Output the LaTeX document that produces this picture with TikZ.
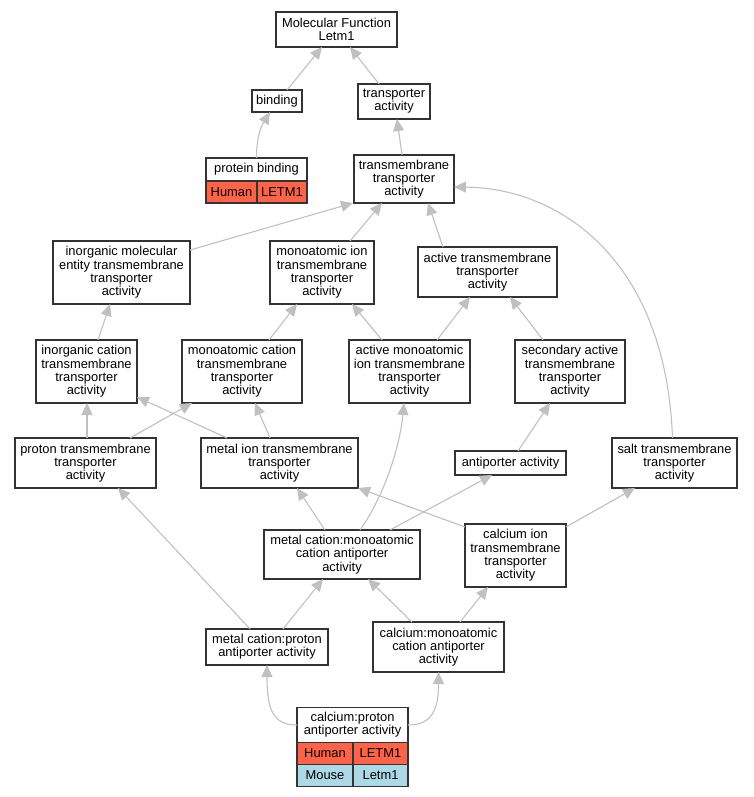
\documentclass[tikz,border=0pt]{standalone}
\usepackage{fontspec}
\setmainfont{Liberation Sans}
\usetikzlibrary{arrows.meta}
\newcommand\lab{\fontsize{12.9}{13.3}\selectfont}
\definecolor{edgegray}{HTML}{C0C0C0}
\definecolor{human}{HTML}{FF6347}
\definecolor{mouse}{HTML}{ADD8E6}
\definecolor{border}{HTML}{333333}
\tikzset{
  box/.style={draw=border, line width=1.2pt, fill=white, inner sep=0pt, outer sep=0pt, align=center, font=\lab},
  hcell/.style={box, fill=human},
  mcell/.style={box, fill=mouse},
  edge/.style={draw=edgegray, line width=1.1pt, -{Triangle[length=12pt,width=11pt,fill=edgegray]}}
}
\begin{document}
\begin{tikzpicture}[x=1pt,y=-1pt]
\useasboundingbox (0,0) rectangle (753,797);
% nodes
\node[box, minimum width=121pt, minimum height=35pt] (mf) at (336.5,29.5) {Molecular Function\\Letm1};
\node[box, minimum width=50pt, minimum height=22pt] (bind) at (277,101) {binding};
\node[box, minimum width=72pt, minimum height=35pt] (tra) at (394,101.5) {transporter\\activity};
\node[box, minimum width=101pt, minimum height=23pt] (pb) at (256.5,169.5) {protein binding};
\node[hcell, minimum width=51pt, minimum height=22pt] (pbh) at (231.5,192) {Human};
\node[hcell, minimum width=50pt, minimum height=22pt] (pbl) at (282,192) {LETM1};
\node[box, minimum width=100pt, minimum height=48pt] (tm) at (404,179) {transmembrane\\transporter\\activity};
\node[box, minimum width=137pt, minimum height=63pt] (imt) at (121.5,272.5) {inorganic molecular\\entity transmembrane\\transporter\\activity};
\node[box, minimum width=104pt, minimum height=63pt] (mit) at (322,272.5) {monoatomic ion\\transmembrane\\transporter\\activity};
\node[box, minimum width=139pt, minimum height=50pt] (att) at (487.5,272) {active transmembrane\\transporter\\activity};
\node[box, minimum width=101pt, minimum height=63pt] (ict) at (86.5,371.5) {inorganic cation\\transmembrane\\transporter\\activity};
\node[box, minimum width=120pt, minimum height=63pt] (mct) at (242,371.5) {monoatomic cation\\transmembrane\\transporter\\activity};
\node[box, minimum width=121pt, minimum height=63pt] (ami) at (409.5,371.5) {active monoatomic\\ion transmembrane\\transporter\\activity};
\node[box, minimum width=110pt, minimum height=63pt] (sat) at (570,371.5) {secondary active\\transmembrane\\transporter\\activity};
\node[box, minimum width=141pt, minimum height=50pt] (ptt) at (85.5,463) {proton transmembrane\\transporter\\activity};
\node[box, minimum width=157pt, minimum height=50pt] (mtt) at (279.5,463) {metal ion transmembrane\\transporter\\activity};
\node[box, minimum width=111pt, minimum height=24pt] (ant) at (510.5,463) {antiporter activity};
\node[box, minimum width=125pt, minimum height=50pt] (stt) at (674.5,463) {salt transmembrane\\transporter\\activity};
\node[box, minimum width=156pt, minimum height=49pt] (mcm) at (342,554.5) {metal cation:monoatomic\\cation antiporter\\activity};
\node[box, minimum width=101pt, minimum height=63pt] (cit) at (515.5,555.5) {calcium ion\\transmembrane\\transporter\\activity};
\node[box, minimum width=122pt, minimum height=36pt] (mcp) at (267,647) {metal cation:proton\\antiporter activity};
\node[box, minimum width=131pt, minimum height=50pt] (cmc) at (438.5,647) {calcium:monoatomic\\cation antiporter\\activity};
\node[box, minimum width=111pt, minimum height=35pt] (cp) at (352.5,725) {calcium:proton\\antiporter activity};
\node[hcell, minimum width=56pt, minimum height=22pt] (cph) at (325,753.5) {Human};
\node[hcell, minimum width=55pt, minimum height=22pt] (cpl) at (380.5,753.5) {LETM1};
\node[mcell, minimum width=56pt, minimum height=22pt] (cpm) at (325,775.5) {Mouse};
\node[mcell, minimum width=55pt, minimum height=22pt] (cpk) at (380.5,775.5) {Letm1};
% edges
\draw[edge] ([xshift=10pt]bind.north) -- ([xshift=-14.5pt]mf.south);
\draw[edge] ([xshift=-15pt]tra.north) -- ([xshift=13.5pt]mf.south);
\draw[edge] (pb.north) .. controls (256.5,135) and (262,125) .. ([xshift=-7pt]bind.south);
\draw[edge] ([xshift=-2pt]tm.north) -- ([xshift=3pt]tra.south);
\draw[edge] ([yshift=-9pt]imt.north east) -- ([xshift=-1pt]tm.south west);
\draw[edge] ([xshift=28pt]mit.north) -- ([xshift=-22pt]tm.south);
\draw[edge] ([xshift=-44.5pt]att.north) -- ([xshift=24pt]tm.south);
\draw[edge] ([xshift=-2pt]stt.north) .. controls (666,260) and (560,188) .. ([yshift=-8pt]tm.east);
\draw[edge] ([xshift=11.5pt]ict.north) -- ([xshift=-11.5pt]imt.south);
\draw[edge] ([xshift=27pt]mct.north) -- ([xshift=-25pt]mit.south);
\draw[edge] ([xshift=-27.5pt]ami.north) -- ([xshift=30pt]mit.south);
\draw[edge] ([xshift=27.5pt]ami.north) -- ([xshift=-17.5pt]att.south);
\draw[edge] ([xshift=-27pt]sat.north) -- ([xshift=22.5pt]att.south);
\draw[edge] ([xshift=1.5pt]ptt.north) -- ([xshift=0.5pt]ict.south);
\draw[edge] ([xshift=44.5pt]ptt.north) -- ([xshift=10pt]mct.south west);
\draw[edge] ([xshift=-52.5pt]mtt.north) -- ([yshift=6pt]ict.south east);
\draw[edge] ([xshift=-9.5pt]mtt.north) -- ([xshift=13pt]mct.south);
\draw[edge] ([xshift=7.5pt]ant.north) -- ([xshift=-20pt]sat.south);
\draw[edge] ([xshift=-17pt]mcm.north) -- ([xshift=17.5pt]mtt.south);
\draw[edge] ([xshift=18pt]mcm.north) .. controls (385,495) and (400,445) .. ([xshift=-5.5pt]ami.south);
\draw[edge] ([xshift=48pt]mcm.north) -- ([xshift=-18.5pt]ant.south);
\draw[edge] ([yshift=-3pt]cit.north west) -- (mtt.south east);
\draw[edge] ([yshift=-3pt]cit.north east) -- ([xshift=-39.5pt]stt.south);
\draw[edge] ([xshift=-17pt]mcp.north) -- ([xshift=32.5pt]ptt.south);
\draw[edge] ([xshift=16pt]mcp.north) -- ([xshift=-19pt]mcm.south);
\draw[edge] ([xshift=-26.5pt]cmc.north) -- ([xshift=26pt]mcm.south);
\draw[edge] ([xshift=21.5pt]cmc.north) -- ([xshift=-27.5pt]cit.south);
\draw[edge] (cp.west) .. controls (272,725) and (267,708) .. (mcp.south);
\draw[edge] (cp.east) .. controls (433,725) and (438.5,708) .. (cmc.south);
\end{tikzpicture}
\end{document}
